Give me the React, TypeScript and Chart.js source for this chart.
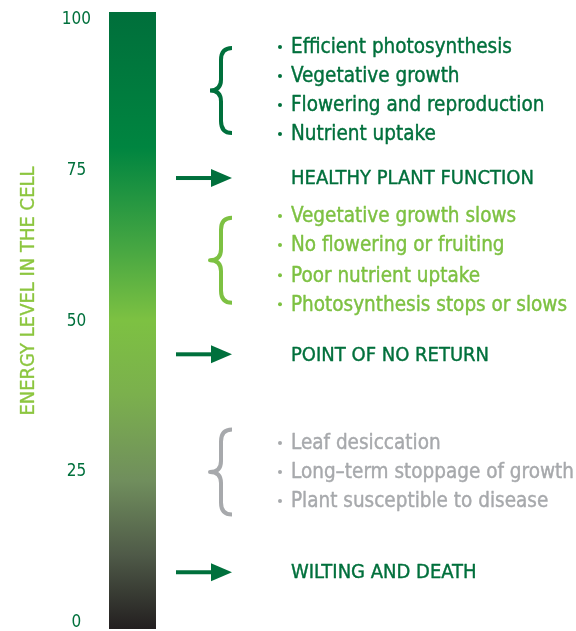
import React, { useEffect, useRef } from "react";
import { Chart, registerables } from "chart.js";

Chart.register(...registerables);

// ---- data ----
const categories = ["Energy level"];
const barRange: [number, number] = [-1, 101.2];
const tickValues = [0, 25, 50, 75, 100];
const axisTitle = "ENERGY LEVEL IN THE CELL";

const healthyItems = ["Efficient photosynthesis", "Vegetative growth", "Flowering and reproduction", "Nutrient uptake"];
const healthyLevels = [95.4, 90.6, 85.8, 81.0];

const stressItems = ["Vegetative growth slows", "No flowering or fruiting", "Poor nutrient uptake", "Photosynthesis stops or slows"];
const stressLevels = [67.4, 62.6, 57.6, 52.8];

const declineItems = ["Leaf desiccation", "Long\u2013term stoppage of growth", "Plant susceptible to disease"];
const declineLevels = [29.8, 25.0, 20.2];

const thresholdLabels = ["HEALTHY PLANT FUNCTION", "POINT OF NO RETURN", "WILTING AND DEATH"];
const thresholdLevels = [73.7, 44.5, 8.4];

const DARK = "#00703c";
const LIGHT = "#7dc142";
const GRAY = "#a7a9ac";
const TITLE = "#8cc63f";
const FONT = "'DejaVu Sans Condensed', 'DejaVu Sans', sans-serif";

const heavyText = (ctx: CanvasRenderingContext2D, t: string, x: number, y: number, color: string, w = 0.4) => {
  ctx.fillStyle = color;
  ctx.strokeStyle = color;
  ctx.lineWidth = w;
  ctx.lineJoin = "round";
  ctx.fillText(t, x, y);
  ctx.strokeText(t, x, y);
};

const annotationPlugin = {
  id: "annotations",
  afterDraw(chart: any) {
    const ctx: CanvasRenderingContext2D = chart.ctx;
    const y = chart.scales.y;
    ctx.save();

    // axis title
    ctx.save();
    ctx.translate(29, 291);
    ctx.rotate(-Math.PI / 2);
    ctx.font = `20px ${FONT}`;
    ctx.textAlign = "center";
    ctx.textBaseline = "middle";
    heavyText(ctx, axisTitle, 0, 0, TITLE, 0.3);
    ctx.restore();

    const drawBrace = (yc: number, color: string) => {
      const h = 42.5;
      const xTip = 210;
      const xMid = 221;
      const xEnd = 232;
      ctx.strokeStyle = color;
      ctx.lineWidth = 4;
      ctx.lineCap = "butt";
      ctx.beginPath();
      ctx.moveTo(xEnd, yc - h);
      ctx.quadraticCurveTo(xMid, yc - h, xMid, yc - h + 12);
      ctx.lineTo(xMid, yc - 11);
      ctx.quadraticCurveTo(xMid, yc, xTip, yc);
      ctx.quadraticCurveTo(xMid, yc, xMid, yc + 11);
      ctx.lineTo(xMid, yc + h - 12);
      ctx.quadraticCurveTo(xMid, yc + h, xEnd, yc + h);
      ctx.stroke();
    };

    const drawGroup = (items: string[], levels: number[], color: string) => {
      const ys = levels.map((v) => y.getPixelForValue(v));
      const mid = (ys[0] + ys[ys.length - 1]) / 2;
      drawBrace(mid, color);
      ctx.font = `20.5px ${FONT}`;
      ctx.textAlign = "left";
      ctx.textBaseline = "middle";
      items.forEach((t, i) => {
        ctx.fillStyle = color;
        ctx.beginPath();
        ctx.arc(280, ys[i], 2, 0, Math.PI * 2);
        ctx.fill();
        heavyText(ctx, t, 291, ys[i] + 1, color);
      });
    };

    drawGroup(healthyItems, healthyLevels, DARK);
    drawGroup(stressItems, stressLevels, LIGHT);
    drawGroup(declineItems, declineLevels, GRAY);

    thresholdLabels.forEach((t, i) => {
      const py = y.getPixelForValue(thresholdLevels[i]);
      ctx.fillStyle = DARK;
      ctx.fillRect(176, py - 2, 37, 4);
      ctx.beginPath();
      ctx.moveTo(211, py - 9);
      ctx.lineTo(232, py);
      ctx.lineTo(211, py + 9);
      ctx.closePath();
      ctx.fill();
      ctx.font = `20px ${FONT}`;
      ctx.textAlign = "left";
      ctx.textBaseline = "middle";
      heavyText(ctx, t, 291, py + 1, DARK);
    });

    ctx.restore();
  },
};

export default function App() {
  const ref = useRef<HTMLCanvasElement | null>(null);
  useEffect(() => {
    if (!ref.current) return;
    const chart = new Chart(ref.current, {
      type: "bar",
      data: {
        labels: categories,
        datasets: [
          {
            data: [barRange as any],
            barPercentage: 1,
            categoryPercentage: 1,
            borderWidth: 0,
            backgroundColor: (c: any) => {
              const area = c.chart.chartArea;
              if (!area) return DARK;
              const g = c.chart.ctx.createLinearGradient(0, area.top, 0, area.bottom);
              g.addColorStop(0, "#006f3b");
              g.addColorStop(0.22, "#008540");
              g.addColorStop(0.38, "#45a642");
              g.addColorStop(0.5, "#7dc142");
              g.addColorStop(0.62, "#7bb04d");
              g.addColorStop(0.76, "#708e5d");
              g.addColorStop(0.88, "#4f5a48");
              g.addColorStop(1, "#231f20");
              return g;
            },
          },
        ],
      },
      options: {
        animation: false,
        responsive: false,
        maintainAspectRatio: false,
        layout: { padding: { left: 0, right: 420, top: 12, bottom: 2 } },
        plugins: { legend: { display: false }, tooltip: { enabled: false } },
        scales: {
          x: { display: false },
          y: {
            min: barRange[0],
            max: barRange[1],
            afterBuildTicks: (s: any) => {
              s.ticks = tickValues.map((v) => ({ value: v }));
            },
            afterFit: (s: any) => {
              s.width = 109;
              s.paddingTop = 0;
              s.paddingBottom = 0;
            },
            grid: { display: false, drawTicks: false },
            border: { display: false },
            ticks: {
              crossAlign: "center",
              padding: 18,
              color: DARK,
              font: { family: FONT, size: 17 },
            },
          },
        },
      },
      plugins: [annotationPlugin],
    });
    return () => chart.destroy();
  }, []);
  return (
    <div style={{ position: "fixed", left: 0, top: 0, width: 576, height: 631, background: "#fff" }}>
      <canvas ref={ref} width={576} height={631} style={{ width: 576, height: 631 }} />
    </div>
  );
}
